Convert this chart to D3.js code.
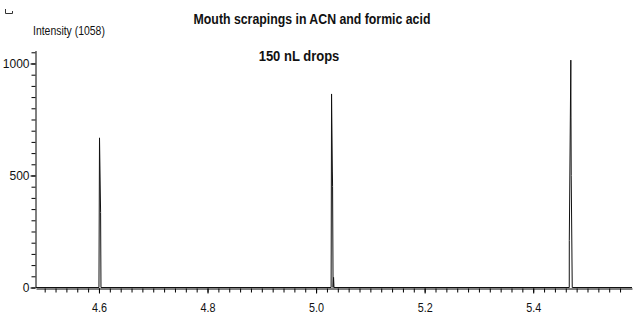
<!DOCTYPE html>
<html>
<head>
<meta charset="utf-8">
<script src="https://cdn.jsdelivr.net/npm/d3@7"></script>
<style>
  body { margin: 0; background: #fff; }
  svg { display: block; }
  .graf text { font-family: "Liberation Sans Narrow", "Arial Narrow", "Liberation Sans", sans-serif; fill: #111; }
  .titulo { font-weight: bold; font-size: 14px; }
  .axis text { font-size: 12px; }
  .axis path, .axis line { stroke: #000; }
</style>
</head>
<body>
<div id="graf"></div>
<script>
// Datos (tiempo de retención, intensidad)
const tiempos = [4.484, 4.6000, 4.6010, 4.6030, 4.6037,
  5.0277, 5.0285, 5.0300, 5.0304, 5.0313, 5.0322, 5.0330,
  5.4664, 5.4665, 5.4693, 5.4696, 5.4700, 5.4719, 5.582]
const intensidades = [0, 0, 668, 335, 0,
  0, 864, 520, 450, 0, 45, 0,
  0, 210, 1015, 757, 500, 0, 0]
const xTicks = [4.6, 4.8, 5.0, 5.2, 5.4]
const yTicks = [0, 500, 1000]
const maxIntensidad = 1058
const titulos = ["Mouth scrapings in ACN and formic acid", "150 nL drops"]

const data = tiempos.map((t, i) => ({ t: t, v: intensidades[i] }))

// Dimensiones
const anchoTotal = 633
const altoTotal = 314

const svg = d3.select("#graf")
  .append("svg")
  .attr("width", anchoTotal)
  .attr("height", altoTotal)
  .attr("class", "graf")

// Escaladores
const x = d3.scaleLinear().domain([4.484, 5.582]).range([36, 632])
const y = d3.scaleLinear().domain([0, maxIntensidad]).range([287.5, 50.5])

// Ejes menores
svg.append("g")
  .attr("transform", "translate(0, 288.5)")
  .classed("axis", true)
  .call(d3.axisBottom(x).tickValues(d3.range(4.5, 5.58, 0.02)).tickSize(4).tickFormat("").tickSizeOuter(0))

svg.append("g")
  .attr("transform", "translate(35.5, 0)")
  .classed("axis", true)
  .call(d3.axisLeft(y).tickValues(d3.range(0, 1051, 50)).tickSize(4).tickFormat("").tickSizeOuter(0))

// Ejes mayores
svg.append("g")
  .attr("transform", "translate(0, 288.5)")
  .classed("axis", true)
  .call(d3.axisBottom(x).tickValues(xTicks).tickSize(5).tickFormat(d3.format(".1f")).tickSizeOuter(0))
  .call(g => g.select(".domain").remove())
  .call(g => g.selectAll("text").attr("y", 15).attr("transform", "scale(0.9,1)"))

svg.append("g")
  .attr("transform", "translate(35.5, 0)")
  .classed("axis", true)
  .call(d3.axisLeft(y).tickValues(yTicks).tickSize(5).tickFormat(d3.format("d")).tickSizeOuter(0))
  .call(g => g.select(".domain").remove())
  .call(g => g.selectAll("text").attr("x", -6))

// Línea del cromatograma
const linea = d3.line().x(d => x(d.t)).y(d => y(d.v))
svg.append("path")
  .datum(data)
  .attr("d", linea)
  .attr("fill", "none")
  .attr("stroke", "#111")
  .attr("stroke-width", 1)

// Títulos (texto estrecho)
const estrecho = (px, py, sx) => `translate(${px}, ${py}) scale(${sx}, 1)`

svg.append("text")
  .attr("transform", estrecho(312, 24, 0.88))
  .attr("text-anchor", "middle")
  .classed("titulo", true)
  .text(titulos[0])

svg.append("text")
  .attr("transform", estrecho(299, 61, 0.93))
  .attr("text-anchor", "middle")
  .classed("titulo", true)
  .text(titulos[1])

svg.append("text")
  .attr("transform", estrecho(33, 35, 0.87))
  .style("font-size", "12px")
  .text(`Intensity (${maxIntensidad})`)

// pequeña marca arriba a la izquierda
svg.append("path")
  .attr("d", "M5.5,9 V13.5 H12.5 V11")
  .attr("fill", "none")
  .attr("stroke", "#333")
  .attr("stroke-width", 1)
</script>
</body>
</html>
